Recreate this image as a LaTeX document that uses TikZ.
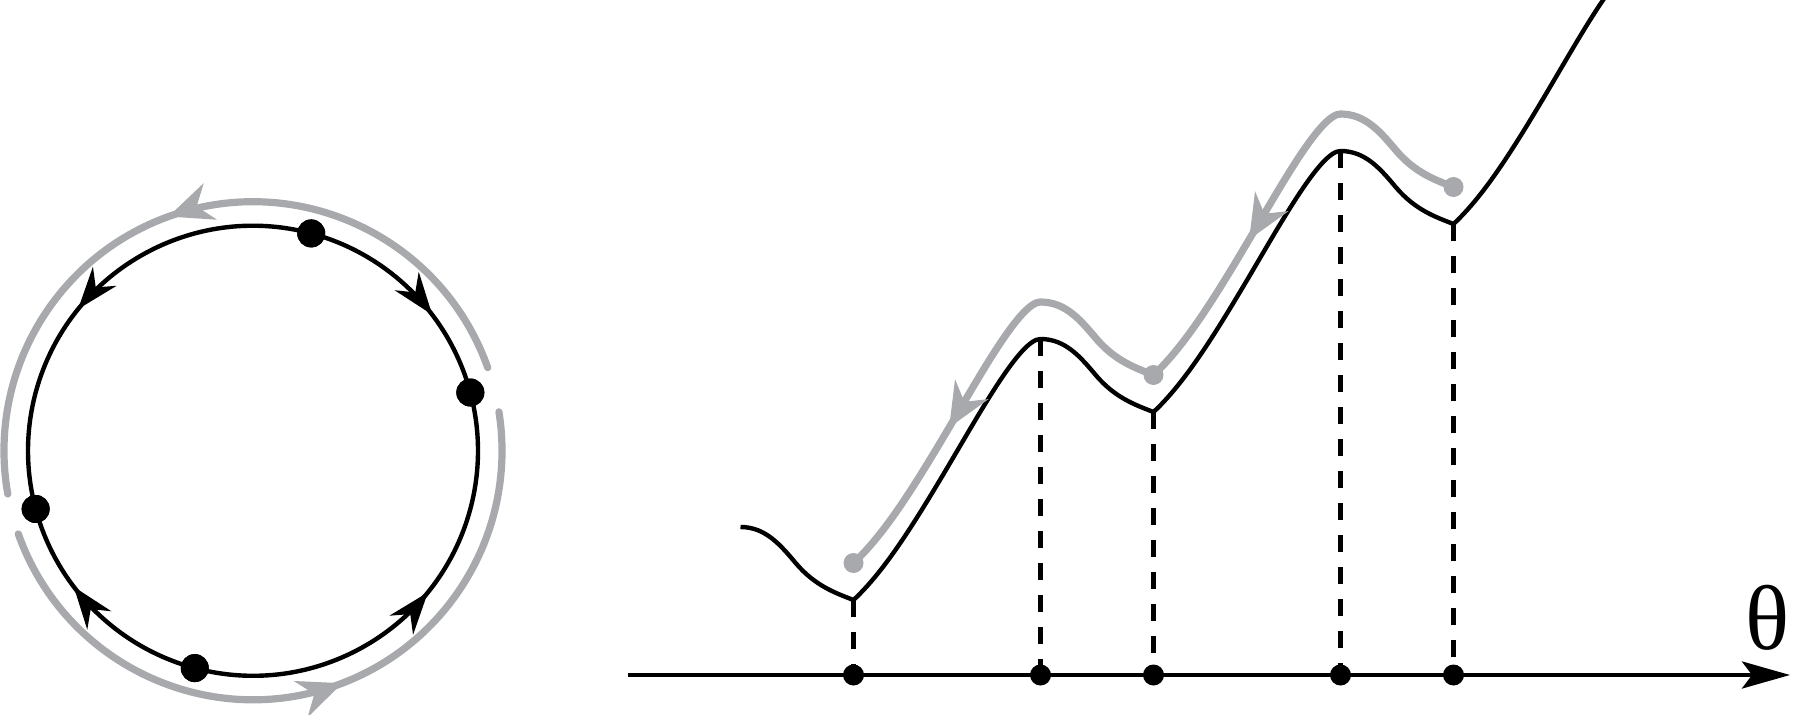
\documentclass[tikz,border=0pt]{standalone}
\usepackage{fontspec}
\newfontfamily\thetafont{Liberation Serif}
\usetikzlibrary{arrows.meta,decorations.markings}
\definecolor{arcgray}{RGB}{167,169,172}
\tikzset{
  blackline/.style={line width=2.2pt, black},
  grayline/.style={line width=3.6pt, arcgray, line cap=round, line join=round},
  curveline/.style={line width=2.2pt, black, line join=round},
  axisline/.style={line width=2.2pt, black},
  dashline/.style={line width=2.3pt, black, dash pattern=on 8.5pt off 7.5pt},
  bigdot/.style={circle, fill=black, inner sep=0pt, minimum size=14pt},
  axisdot/.style={circle, fill=black, inner sep=0pt, minimum size=10.5pt},
  graydot/.style={circle, fill=arcgray, inner sep=0pt, minimum size=10pt},
  blkarrow/.style={postaction={decorate}, decoration={markings,
      mark=at position #1 with {\arrow{Stealth[length=21pt,width=15pt,inset=7pt]}}}},
  gryarrow/.style={postaction={decorate}, decoration={markings,
      mark=at position #1 with {\arrow{Stealth[length=22pt,width=19pt,inset=7pt]}}}},
  gryarrowtwo/.style 2 args={postaction={decorate}, decoration={markings,
      mark=at position #1 with {\arrow{Stealth[length=22pt,width=19pt,inset=7pt]}},
      mark=at position #2 with {\arrow{Stealth[length=22pt,width=19pt,inset=7pt]}}}}
}
\begin{document}
\begin{tikzpicture}[x=0.5pt,y=0.5pt]
\useasboundingbox (0,0) rectangle (1795,714);

% ---------- circle ----------
\coordinate (C) at (253,263.25);
\path (C) ++(75:225) node[bigdot] (d1) {};
\path (C) ++(15:225) node[bigdot] (d2) {};
\path (C) ++(195:225) node[bigdot] (d3) {};
\path (C) ++(255:225) node[bigdot] (d4) {};

\draw[grayline, gryarrow=0.53] (C) ++(19.5:249) arc[start angle=19.5, end angle=190, radius=249];
\draw[grayline, gryarrow=0.54] (C) ++(199.5:249) arc[start angle=199.5, end angle=369, radius=249];

\draw[blackline, blkarrow=0.63] (d1.center) arc[start angle=75, end angle=15, radius=225];
\draw[blackline, blkarrow=0.55] (d1.center) arc[start angle=75, end angle=195, radius=225];
\draw[blackline, blkarrow=0.63] (d4.center) arc[start angle=255, end angle=195, radius=225];
\draw[blackline, blkarrow=0.55] (d4.center) arc[start angle=255, end angle=375, radius=225];

\foreach \n in {d1,d2,d3,d4} \node[bigdot] at (\n) {};

% ---------- graph ----------
\coordinate (M0) at (740.5,187);
\coordinate (I0) at (796.5,150);
\coordinate (m1) at (853.5,114);
\coordinate (R1) at (946.5,245);
\coordinate (M1) at (1040.5,375);
\coordinate (I1) at (1096.5,338);
\coordinate (m2) at (1153.5,302);
\coordinate (R2) at (1246.5,433);
\coordinate (M2) at (1340.5,563);
\coordinate (I2) at (1396.5,526);
\coordinate (m3) at (1453.5,490);
\coordinate (R3) at (1546.5,621);
\coordinate (M3) at (1640.5,751);

\coordinate (gm3) at (1453.5,527);
\coordinate (gI2) at (1396.5,563);
\coordinate (gM2) at (1340.5,600);
\coordinate (gR2) at (1246.5,470);
\coordinate (gm2) at (1153.5,339);
\coordinate (gI1) at (1096.5,375);
\coordinate (gM1) at (1040.5,412);
\coordinate (gR1) at (946.5,282);
\coordinate (gm1) at (853.5,151);

\coordinate (ax0) at (628,39);
\coordinate (ax1) at (1790,39);
\node[axisdot] (a1) at (853.5,39) {};
\node[axisdot] (a2) at (1040.5,39) {};
\node[axisdot] (a3) at (1153.5,39) {};
\node[axisdot] (a4) at (1340.5,39) {};
\node[axisdot] (a5) at (1453.5,39) {};

\draw[axisline, -{Stealth[length=24pt,width=13.5pt,inset=5pt]}] (ax0) -- (ax1);

\draw[dashline] (m1) -- (a1.center);
\draw[dashline] (M1) -- (a2.center);
\draw[dashline] (m2) -- (a3.center);
\draw[dashline] (M2) -- (a4.center);
\draw[dashline] (m3) -- (a5.center);

\begin{scope}
\clip (0,0) rectangle (1795,714);
\draw[curveline] (M0)
  .. controls +(25,0) and +(-16,19) .. (I0)
  .. controls +(19,-22) and +(-18,7) .. (m1)
  .. controls +(30,28) and +(-35,-59) .. (R1)
  .. controls +(35,59) and +(-20,0) .. (M1)
  .. controls +(25,0) and +(-16,19) .. (I1)
  .. controls +(19,-22) and +(-18,7) .. (m2)
  .. controls +(30,28) and +(-35,-59) .. (R2)
  .. controls +(35,59) and +(-20,0) .. (M2)
  .. controls +(25,0) and +(-16,19) .. (I2)
  .. controls +(19,-22) and +(-18,7) .. (m3)
  .. controls +(30,28) and +(-35,-59) .. (R3)
  .. controls +(35,59) and +(-20,0) .. (M3);
\end{scope}

\draw[grayline, gryarrowtwo={0.32}{0.82}] (gm3)
  .. controls +(-18,7) and +(19,-22) .. (gI2)
  .. controls +(-16,19) and +(25,0) .. (gM2)
  .. controls +(-20,0) and +(35,59) .. (gR2)
  .. controls +(-35,-59) and +(30,28) .. (gm2)
  .. controls +(-18,7) and +(19,-22) .. (gI1)
  .. controls +(-16,19) and +(25,0) .. (gM1)
  .. controls +(-20,0) and +(35,59) .. (gR1)
  .. controls +(-35,-59) and +(30,28) .. (gm1);

\node[graydot] (g1) at (gm1) {};
\node[graydot] (g2) at (gm2) {};
\node[graydot] (g3) at (gm3) {};

\node[inner sep=0pt, font=\thetafont\fontsize{46}{46}\selectfont] (theta) at (1767.5,96.5) {θ};
\end{tikzpicture}
\end{document}
